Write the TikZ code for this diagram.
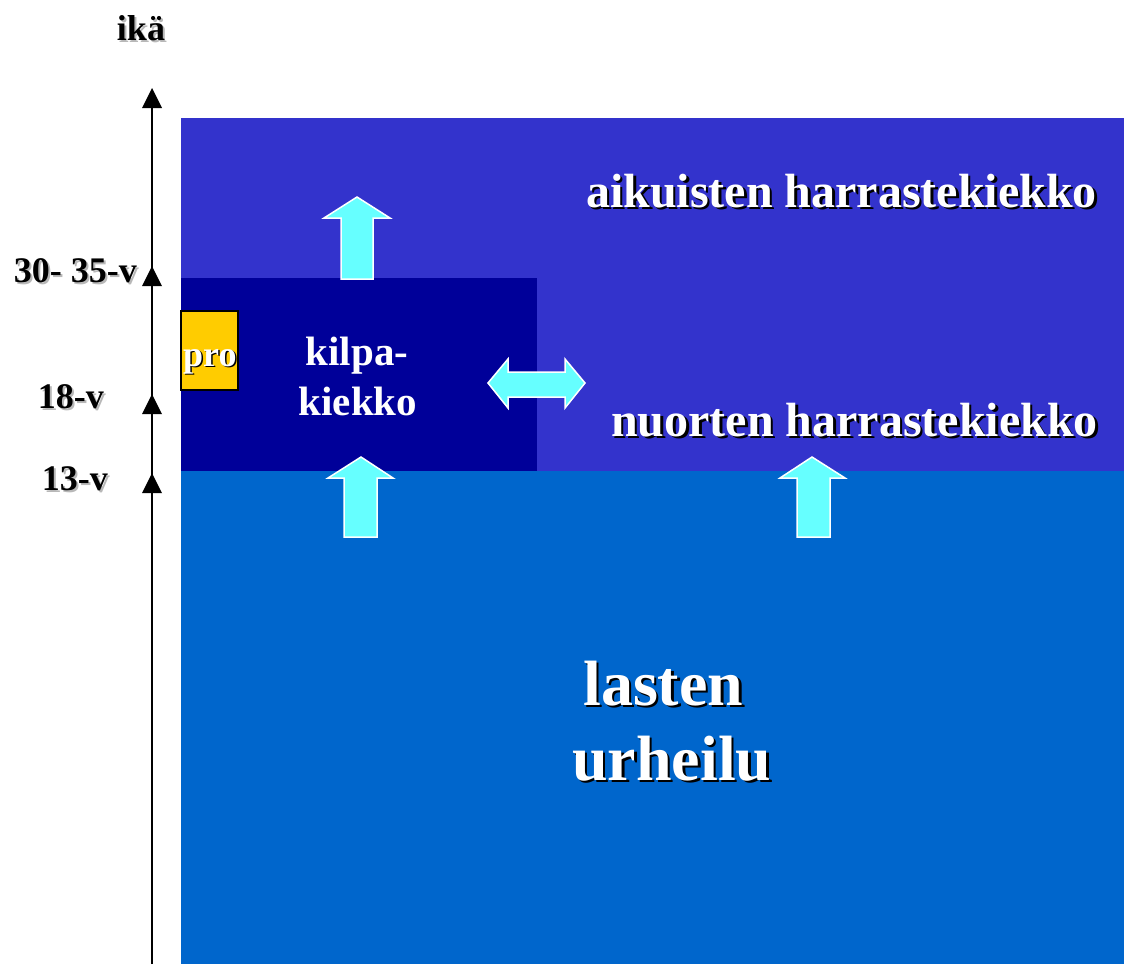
\documentclass[tikz,border=0pt]{standalone}
\usepackage{fontspec}
\setmainfont{Liberation Serif}
\definecolor{kidsblue}{HTML}{0066CC}
\definecolor{hobbyblue}{HTML}{3333CC}
\definecolor{compblue}{HTML}{000099}
\definecolor{proyellow}{HTML}{FFCC00}
\definecolor{arrowcyan}{HTML}{66FFFF}
\definecolor{shadegray}{HTML}{B8B8B8}
% text with a drop shadow, set as one piece of text
\newcommand\shadowed[3]{\makebox[0pt][l]{\hspace{#1}\raisebox{-#1}{\textcolor{#2}{#3}}}#3}
\tikzset{
  axislbl/.style={font=\bfseries\fontsize{36}{40}\selectfont, inner sep=0pt, text=black},
  whitelbl/.style={font=\bfseries\fontsize{#1}{#1}\selectfont, inner sep=0pt, text=white},
  blockarrow/.style={fill=arrowcyan, draw=white, line width=1.5pt, line join=miter},
  tri/.style={fill=black},
}
\begin{document}
\begin{tikzpicture}[x=1pt,y=-1pt]
\useasboundingbox (0,0) rectangle (1124,964);
% regions
\fill[kidsblue] (181,471) rectangle (1124,964);
\fill[hobbyblue] (181,118) rectangle (1124,471);
\fill[compblue] (181,278) rectangle (537,471);
\filldraw[fill=proyellow, draw=black, line width=1.5pt] (181,311) rectangle (238,390);

% axis
\coordinate (axbot) at (152,964);
\coordinate (axtop) at (152,100);
\draw[line width=2pt] (axbot) -- (axtop);
\foreach \ty in {88,266,394,473}{
  \fill[tri] (152,\ty) -- (162,\ty+20) -- (142,\ty+20) -- cycle;
}

% axis labels
\node[axislbl, anchor=base] (ika) at (141,40) {\shadowed{2pt}{shadegray}{ikä}};
\node[axislbl, anchor=base east] (a30) at (137,282) {\shadowed{2pt}{shadegray}{30- 35-v}};
\node[axislbl, anchor=base east] (a18) at (104,408) {\shadowed{2pt}{shadegray}{18-v}};
\node[axislbl, anchor=base east] (a13) at (108,490) {\shadowed{2pt}{shadegray}{13-v}};

% block arrows
\draw[blockarrow] (357,197) -- (390,218) -- (373,218) -- (373,279) -- (341,279) -- (341,218) -- (324,218) -- cycle;
\draw[blockarrow] (361,457) -- (393,478) -- (377,478) -- (377,537) -- (344,537) -- (344,478) -- (328,478) -- cycle;
\draw[blockarrow] (812,457) -- (845,478) -- (830,478) -- (830,537) -- (797,537) -- (797,478) -- (780,478) -- cycle;
\draw[blockarrow] (488,383) -- (508,359) -- (508,372) -- (565,372) -- (565,359) -- (585,383) -- (565,408) -- (565,397) -- (508,397) -- (508,408) -- cycle;

% texts
\node[whitelbl=48, anchor=base west] (adult) at (586,207) {\shadowed{2.5pt}{black}{aikuisten harrastekiekko}};
\node[whitelbl=48, anchor=base west] (youth) at (611,436) {\shadowed{2.5pt}{black}{nuorten harrastekiekko}};

\node[whitelbl=41, anchor=base] (kilpa) at (357,365) {kilpa-};
\node[whitelbl=41, anchor=base] (kiekko) at (358,415) {kiekko};

\node[whitelbl=36, anchor=base west] (pro) at (183,366) {\shadowed{1.5pt}{black}{pro}};

\node[whitelbl=64, anchor=base west] (lasten) at (583,705) {\shadowed{2.5pt}{black}{lasten}};
\node[whitelbl=64, anchor=base west] (urheilu) at (572,780) {\shadowed{2.5pt}{black}{urheilu}};
\end{tikzpicture}
\end{document}
